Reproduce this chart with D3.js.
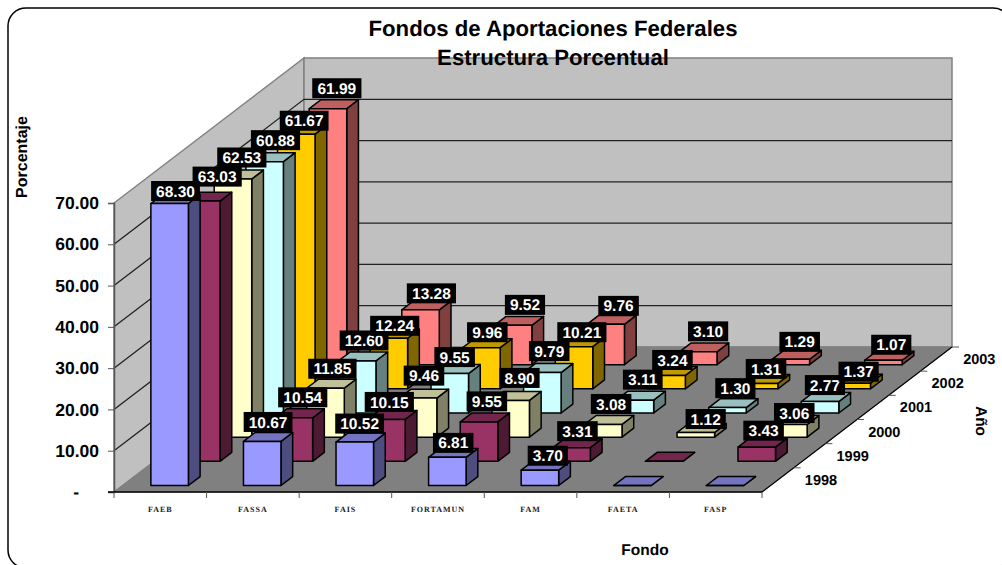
<!DOCTYPE html>
<html>
<head>
<meta charset="utf-8">
<title>Fondos de Aportaciones Federales</title>
<script src="https://cdn.jsdelivr.net/npm/d3@7"></script>
<style>
    html, body { margin: 0; padding: 0; background: #fff; overflow: hidden; }
    text { font-family: "Liberation Sans", Arial, sans-serif; font-weight: bold; fill: #000; text-rendering: geometricPrecision; }
</style>
</head>
<body>
<div id="canvas"></div>
<script>
// Chart data
var categories = ["FAEB", "FASSA", "FAIS", "FORTAMUN", "FAM", "FAETA", "FASP"];
var years = ["1998", "1999", "2000", "2001", "2002", "2003"];
var yTicks = [0, 10, 20, 30, 40, 50, 60, 70];

var values1998 = [68.30, 10.67, 10.52, 6.81, 3.70, 0, 0];
var values1999 = [63.03, 10.54, 10.15, 9.55, 3.31, 0, 3.43];
var values2000 = [62.53, 11.85, 9.46, 8.90, 3.08, 1.12, 3.06];
var values2001 = [60.88, 12.60, 9.55, 9.79, 3.11, 1.30, 2.77];
var values2002 = [61.67, 12.24, 9.96, 10.21, 3.24, 1.31, 1.37];
var values2003 = [61.99, 13.28, 9.52, 9.76, 3.10, 1.29, 1.07];
var seriesValues = [values1998, values1999, values2000, values2001, values2002, values2003];
var seriesColors = ["#9999ff", "#993366", "#ffffcc", "#ccffff", "#ffcc00", "#ff8080"];

// Layout specification variables
var width = 1002, height = 565;
var plotLeft = 114, plotRight = 762;
var floorY = 492, topY = 203;
var depthX = 190, depthY = 145;                 // how far the back wall is shifted from the front
var barWidth = 37.5, barShift = 0.8;            // bars sit a little right of the band centre
var barDepth = 0.37, barInset = 0.27;           // fractions of one year band

// The labels were placed by hand in the original, so each one gets a small [dx, dy] nudge
var labelNudges = [
    [[0, 8], [0, 1], [-1, 2], [0, 6], [2, 6], [0, 0], [0, 0]],
    [[10, -4], [3, 0], [-3, 3], [2, 0], [0, 4], [0, 0], [1, 4]],
    [[3, -1], [1, 1], [0, -2], [3, -2], [2, 0], [4, 7], [0, 9]],
    [[5, -1], [1, 0], [-1, 4], [1, -1], [2, 0], [2, 1], [-1, 4]],
    [[2, 7], [0, 8], [0, 5], [2, 6], [0, 5], [1, 6], [1, 9]],
    [[3, 0], [5, 4], [6, 0], [7, 2], [4, 0], [3, 3], [2, 5]]
];

var xBand = d3.scaleBand().domain(categories).range([plotLeft, plotRight]);
var depthBand = d3.scaleBand().domain(years).range([0, 1]);
var yScale = d3.scaleLinear().domain([0, 70]).range([floorY, topY]);

// screen position of a point x px along the front, d (0..1) into the depth, at value v
function project(x, d, v) {
    return [x + d * depthX, yScale(v) - d * depthY];
}

function shade(color, amount) {
    return d3.interpolateRgb(color, "#000")(amount);
}

var svg = d3.select("#canvas").append("svg")
    .attr("width", width)
    .attr("height", height)
    .style("display", "block");

// outer frame, runs off the window on the right and bottom
svg.append("rect")
    .attr("x", 8).attr("y", 8)
    .attr("width", 1003).attr("height", 560)
    .attr("rx", 18).attr("ry", 18)
    .attr("fill", "#fff").attr("stroke", "#000").attr("stroke-width", 1.5);

// walls and floor
var walls = svg.append("g");
function poly(parent, points) {
    return parent.append("polygon").attr("points", points.map(function(p) { return p.join(","); }).join(" "));
}
poly(walls, [project(plotLeft, 0, 0), project(plotLeft, 1, 0), project(plotLeft, 1, 70), project(plotLeft, 0, 70)])
    .attr("fill", "#c0c0c0").attr("stroke", "#808080").attr("stroke-width", 1.5);
poly(walls, [project(plotLeft, 1, 0), project(plotRight, 1, 0), project(plotRight, 1, 70), project(plotLeft, 1, 70)])
    .attr("fill", "#c0c0c0").attr("stroke", "#808080").attr("stroke-width", 1.5);
poly(walls, [project(plotLeft, 0, 0), project(plotRight, 0, 0), project(plotRight, 1, 0), project(plotLeft, 1, 0)])
    .attr("fill", "#808080").attr("stroke", "#808080");

// gridlines on both walls
var grid = yTicks.filter(function(t) { return t > 0 && t < 70; });
walls.selectAll("path.grid")
    .data(grid)
    .enter()
    .append("path")
    .attr("class", "grid")
    .attr("fill", "none")
    .attr("stroke", "#222")
    .attr("stroke-width", 1.3)
    .attr("d", function(t) {
        return d3.line()([project(plotLeft, 0, t), project(plotLeft, 1, t), project(plotRight, 1, t)]);
    });

// value axis
var yAxis = d3.axisLeft(yScale)
    .tickValues(yTicks)
    .tickSize(6)
    .tickPadding(9)
    .tickFormat(function(t) { return t === 0 ? "-" : d3.format(".2f")(t); });
var yAxisG = svg.append("g")
    .attr("transform", "translate(" + plotLeft + ",0)")
    .call(yAxis);
yAxisG.attr("font-family", null).attr("font-size", null);
yAxisG.select(".domain").attr("stroke", "#555").attr("stroke-width", 1.5);
yAxisG.selectAll(".tick line").attr("stroke", "#555");
yAxisG.selectAll("text").attr("font-size", 17.5);
yAxisG.selectAll(".tick")
    .filter(function(t) { return t === 0; })
    .select("text")
    .attr("x", -35);

// category axis: labels from the axis, ticks on the band edges
var xAxisG = svg.append("g")
    .attr("transform", "translate(0," + floorY + ")")
    .call(d3.axisBottom(xBand).tickSize(0).tickPadding(0));
xAxisG.attr("font-family", null).attr("font-size", null);
xAxisG.select(".domain").remove();
xAxisG.selectAll("text")
    .attr("y", 20)
    .attr("dy", null)
    .attr("font-size", 8)
    .attr("letter-spacing", 1)
    .style("font-family", '"Liberation Serif", serif')
    .style("fill", "#222");

svg.append("line")
    .attr("x1", plotLeft - 6).attr("x2", plotRight)
    .attr("y1", floorY).attr("y2", floorY)
    .attr("stroke", "#000").attr("stroke-width", 1.5);
svg.selectAll("line.xtick")
    .data(categories.concat([null]))
    .enter()
    .append("line")
    .attr("class", "xtick")
    .attr("x1", function(c) { return c ? xBand(c) : plotRight; })
    .attr("x2", function(c) { return c ? xBand(c) : plotRight; })
    .attr("y1", floorY).attr("y2", floorY + 6)
    .attr("stroke", "#555");

// depth axis along the right edge of the floor
var depthEnd0 = project(plotRight, 0, 0), depthEnd1 = project(plotRight, 1, 0);
svg.append("line")
    .attr("x1", depthEnd0[0]).attr("y1", depthEnd0[1])
    .attr("x2", depthEnd1[0]).attr("y2", depthEnd1[1])
    .attr("stroke", "#000").attr("stroke-width", 1.2);
svg.selectAll("line.ztick")
    .data(years)
    .enter()
    .append("line")
    .attr("class", "ztick")
    .attr("x1", function(y) { return project(plotRight, depthBand(y) + depthBand.bandwidth(), 0)[0]; })
    .attr("x2", function(y) { return project(plotRight, depthBand(y) + depthBand.bandwidth(), 0)[0] + 7; })
    .attr("y1", function(y) { return project(plotRight, depthBand(y) + depthBand.bandwidth(), 0)[1]; })
    .attr("y2", function(y) { return project(plotRight, depthBand(y) + depthBand.bandwidth(), 0)[1]; })
    .attr("stroke", "#555");
svg.selectAll("text.zlabel")
    .data(years)
    .enter()
    .append("text")
    .attr("class", "zlabel")
    .attr("font-size", 14.5)
    .attr("dy", "0.35em")
    .attr("x", function(y) { return project(plotRight, depthBand(y) + depthBand.bandwidth() / 2, 0)[0] + 27; })
    .attr("y", function(y) { return project(plotRight, depthBand(y) + depthBand.bandwidth() / 2, 0)[1]; })
    .text(function(y) { return y; });

// Flatten to one record per bar, back row first so the front rows paint over it
var bars = [];
years.forEach(function(year, s) {
    categories.forEach(function(cat, c) {
        bars.push({ year: year, cat: cat, s: s, c: c, value: seriesValues[s][c], color: seriesColors[s] });
    });
});
var drawOrder = bars.slice().sort(function(a, b) { return b.s - a.s; });

function corners(d) {
    var x0 = xBand(d.cat) + (xBand.bandwidth() - barWidth) / 2 + barShift;
    var x1 = x0 + barWidth;
    var d0 = depthBand(d.year) + depthBand.bandwidth() * barInset;
    var d1 = d0 + depthBand.bandwidth() * barDepth;
    return { x0: x0, x1: x1, d0: d0, d1: d1 };
}

var barG = svg.append("g")
    .selectAll("g")
    .data(drawOrder)
    .enter()
    .append("g")
    .attr("stroke", "#000")
    .attr("stroke-width", 1.5)
    .attr("stroke-linejoin", "round");

barG.append("polygon")   // side
    .attr("fill", function(d) { return shade(d.color, 0.5); })
    .attr("points", function(d) {
        var k = corners(d);
        return [project(k.x1, k.d0, 0), project(k.x1, k.d1, 0), project(k.x1, k.d1, d.value), project(k.x1, k.d0, d.value)].join(" ");
    });
barG.append("polygon")   // top
    .attr("fill", function(d) { return shade(d.color, 0.25); })
    .attr("points", function(d) {
        var k = corners(d);
        return [project(k.x0, k.d0, d.value), project(k.x1, k.d0, d.value), project(k.x1, k.d1, d.value), project(k.x0, k.d1, d.value)].join(" ");
    });
barG.append("polygon")   // front
    .attr("fill", function(d) { return d.color; })
    .attr("points", function(d) {
        var k = corners(d);
        return [project(k.x0, k.d0, 0), project(k.x1, k.d0, 0), project(k.x1, k.d0, d.value), project(k.x0, k.d0, d.value)].join(" ");
    });

// Value labels, white on black, above every bar that is not empty
var labelG = svg.append("g")
    .selectAll("g")
    .data(bars.filter(function(d) { return d.value > 0; }))
    .enter()
    .append("g")
    .attr("transform", function(d) {
        var k = corners(d);
        var p = project((k.x0 + k.x1) / 2, (k.d0 + k.d1) / 2, d.value);
        var nudge = labelNudges[d.s][d.c];
        return "translate(" + (p[0] + nudge[0]) + "," + (p[1] - 16 + nudge[1]) + ")";
    });
labelG.append("text")
    .attr("text-anchor", "middle")
    .attr("dy", "0.36em")
    .attr("font-size", 15.5)
    .style("fill", "#fff")
    .text(function(d) { return d3.format(".2f")(d.value); })
    .each(function() {
        var b = this.getBBox();
        d3.select(this.parentNode).insert("rect", "text")
            .attr("x", -b.width / 2 - 5)
            .attr("y", -10)
            .attr("width", b.width + 10)
            .attr("height", 20)
            .attr("fill", "#000");
    });

// Titles
svg.append("text").attr("x", 553).attr("y", 36).attr("text-anchor", "middle").attr("font-size", 22.2)
    .text("Fondos de Aportaciones Federales");
svg.append("text").attr("x", 553).attr("y", 65).attr("text-anchor", "middle").attr("font-size", 22.2)
    .text("Estructura Porcentual");
svg.append("text").attr("transform", "translate(27,157) rotate(-90)").attr("text-anchor", "middle").attr("font-size", 16)
    .text("Porcentaje");
svg.append("text").attr("x", 645).attr("y", 555).attr("text-anchor", "middle").attr("font-size", 15.5)
    .text("Fondo");
svg.append("text").attr("transform", "translate(976,421) rotate(90)").attr("text-anchor", "middle").attr("font-size", 15.5)
    .text("Año");
</script>
</body>
</html>
